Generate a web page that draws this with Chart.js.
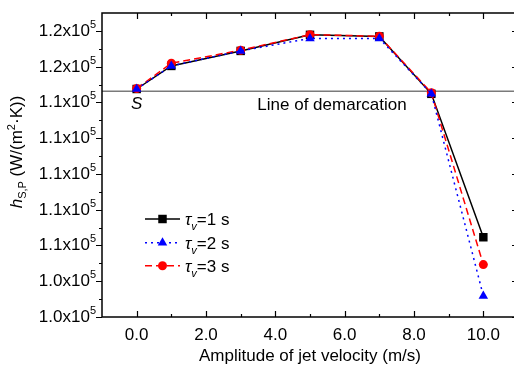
<!DOCTYPE html>
<html>
<head>
<meta charset="utf-8">
<script src="https://cdn.jsdelivr.net/npm/chart.js@4.4.1/dist/chart.umd.min.js"></script>
<style>
html, body { margin: 0; padding: 0; background: #fff; overflow: hidden; }
#wrap { width: 530px; height: 367px; }
</style>
</head>
<body>
<div id="wrap"><canvas id="my_chart" width="530" height="367"></canvas></div>
<script>
// values
var xValues = [0, 1, 3, 5, 7, 8.5, 10];
var tau1 = [114750, 116040, 116880, 117780, 117690, 114480, 106460];
var tau2 = [114750, 116040, 116880, 117580, 117580, 114490, 103180];
var tau3 = [114780, 116190, 116920, 117790, 117700, 114540, 104930];
var demarcation = 114620;
var seriesLabels = ['=1 s', '=2 s', '=3 s'];
var xTicks = [0, 2, 4, 6, 8, 10];
var yTicks = [102000, 104000, 106000, 108000, 110000, 112000, 114000, 116000, 118000];

var FONT = '"Liberation Sans", Arial, sans-serif';

function pts(ys) {
    return xValues.map(function (x, i) { return {x: x, y: ys[i]}; });
}

var styles = [
    {color: '#000000', dash: [], point: 'rect', radius: 6},
    {color: '#0000ff', dash: [2, 4], point: 'triangle', radius: 5.5},
    {color: '#ff0000', dash: [7, 4], point: 'circle', radius: 4.5}
];

function drawPieces(ctx, pieces, x, y) {
    pieces.forEach(function (p) {
        ctx.font = p[1];
        ctx.fillText(p[0], x, y + p[2]);
        x += ctx.measureText(p[0]).width;
    });
}

function piecesWidth(ctx, pieces) {
    var w = 0;
    pieces.forEach(function (p) { ctx.font = p[1]; w += ctx.measureText(p[0]).width; });
    return w;
}

var decor = {
    id: 'decor',
    afterDraw: function (chart) {
        var ctx = chart.ctx, a = chart.chartArea;
        var xs = chart.scales.x, ys = chart.scales.y;
        ctx.save();
        ctx.strokeStyle = '#000';
        ctx.fillStyle = '#000';
        ctx.lineWidth = 1.5;
        ctx.setLineDash([]);
        ctx.strokeRect(a.left, a.top, a.right - a.left, a.bottom - a.top);

        // x tick marks (inward, top and bottom)
        var v, p, len;
        ctx.beginPath();
        for (v = -1; v <= 11; v++) {
            p = Math.round(xs.getPixelForValue(v)) + 0.5;
            if (p <= a.left + 1 || p >= a.right - 1) continue;
            len = (v % 2 === 0) ? 6 : 3;
            ctx.moveTo(p, a.bottom); ctx.lineTo(p, a.bottom - len);
            ctx.moveTo(p, a.top); ctx.lineTo(p, a.top + len);
        }
        // y tick marks (outward left, inward right)
        for (v = 102000; v <= 119000; v += 1000) {
            p = Math.round(ys.getPixelForValue(v)) + 0.5;
            if (p <= a.top + 1 || p >= a.bottom - 1) {
                if (v !== 102000) continue;
            }
            len = (v % 2000 === 0) ? 6 : 3;
            ctx.moveTo(a.left, p); ctx.lineTo(a.left - len, p);
            ctx.moveTo(a.right, p); ctx.lineTo(a.right - len, p);
        }
        ctx.lineWidth = 1.2;
        ctx.stroke();

        // y tick labels with superscript exponent
        ctx.textBaseline = 'alphabetic';
        yTicks.forEach(function (t) {
            var py = ys.getPixelForValue(t);
            var main = (t / 1e5).toFixed(1) + 'x10';
            ctx.font = '11px ' + FONT;
            var sw = ctx.measureText('5').width;
            ctx.fillText('5', 96 - sw, py - 3);
            ctx.font = '17px ' + FONT;
            ctx.textAlign = 'right';
            ctx.fillText(main, 96 - sw, py + 5);
            ctx.textAlign = 'left';
        });

        // y axis title
        ctx.save();
        ctx.translate(22, 152);
        ctx.rotate(-Math.PI / 2);
        var title = [
            ['h', 'italic 17px ' + FONT, 0],
            ['S,P', '11px ' + FONT, 4],
            [' (W/(m', '17px ' + FONT, 0],
            ['2', '11px ' + FONT, -7],
            ['\u00b7K))', '17px ' + FONT, 0]
        ];
        drawPieces(ctx, title, -piecesWidth(ctx, title) / 2, 0);
        ctx.restore();

        // annotation texts
        ctx.font = 'italic 17px ' + FONT;
        ctx.textAlign = 'center';
        ctx.fillText('S', xs.getPixelForValue(0), 109);
        ctx.font = '17px ' + FONT;
        ctx.fillText('Line of demarcation', 332, 110);
        ctx.textAlign = 'left';

        // legend
        var rows = [219, 242.7, 265.7];
        styles.forEach(function (s, i) {
            var y = rows[i];
            ctx.strokeStyle = s.color;
            ctx.fillStyle = s.color;
            ctx.lineWidth = 1.5;
            ctx.setLineDash(s.dash);
            ctx.beginPath();
            ctx.moveTo(145, y); ctx.lineTo(180, y);
            ctx.stroke();
            ctx.setLineDash([]);
            Chart.helpers.drawPoint(ctx, {pointStyle: s.point, radius: s.radius, rotation: 0, borderWidth: 0}, 162.5, y);
            ctx.fillStyle = '#000';
            drawPieces(ctx, [
                ['\u03c4', 'italic 17px ' + FONT, 0],
                ['v', 'italic 11px ' + FONT, 5],
                [seriesLabels[i], '17px ' + FONT, 0]
            ], 185, y + 6);
        });
        ctx.restore();
    }
};

function lineSet(label, ys, s, order) {
    return {
        label: label,
        data: pts(ys),
        borderColor: s.color,
        backgroundColor: s.color,
        borderWidth: 1.5,
        borderDash: s.dash,
        pointStyle: s.point,
        pointRadius: s.radius,
        pointBorderWidth: 0,
        pointBackgroundColor: s.color,
        tension: 0,
        order: order
    };
}

new Chart(document.getElementById('my_chart').getContext('2d'), {
    type: 'line',
    data: {
        datasets: [
            lineSet('tau1', tau1, styles[0], 3),
            lineSet('tau2', tau2, styles[1], 1),
            lineSet('tau3', tau3, styles[2], 2),
            {
                label: 'demarcation',
                data: [{x: -1, y: demarcation}, {x: 11, y: demarcation}],
                borderColor: '#7a7a7a',
                borderWidth: 1.5,
                pointRadius: 0,
                order: 4
            }
        ]
    },
    options: {
        responsive: false,
        animation: false,
        devicePixelRatio: 1,
        layout: {padding: {top: 13, right: 12, bottom: 0, left: 0}},
        plugins: {legend: {display: false}, tooltip: {enabled: false}},
        scales: {
            x: {
                type: 'linear',
                min: -1,
                max: 11,
                grid: {display: false, drawTicks: false},
                border: {display: false},
                afterBuildTicks: function (s) { s.ticks = xTicks.map(function (v) { return {value: v}; }); },
                afterFit: function (s) { s.height = 50; },
                ticks: {
                    color: '#000',
                    padding: 8,
                    maxRotation: 0,
                    font: {family: FONT, size: 17},
                    callback: function (v) { return Number(v).toFixed(1); }
                },
                title: {
                    display: true,
                    text: 'Amplitude of jet velocity (m/s)',
                    color: '#000',
                    font: {family: FONT, size: 17},
                    padding: {top: 0, bottom: 0}
                }
            },
            y: {
                type: 'linear',
                min: 102000,
                max: 119000,
                grid: {display: false, drawTicks: false},
                border: {display: false},
                afterBuildTicks: function (s) { s.ticks = yTicks.map(function (v) { return {value: v}; }); },
                afterFit: function (s) { s.width = 102; },
                ticks: {display: false}
            }
        }
    },
    plugins: [decor]
});
</script>
</body>
</html>
